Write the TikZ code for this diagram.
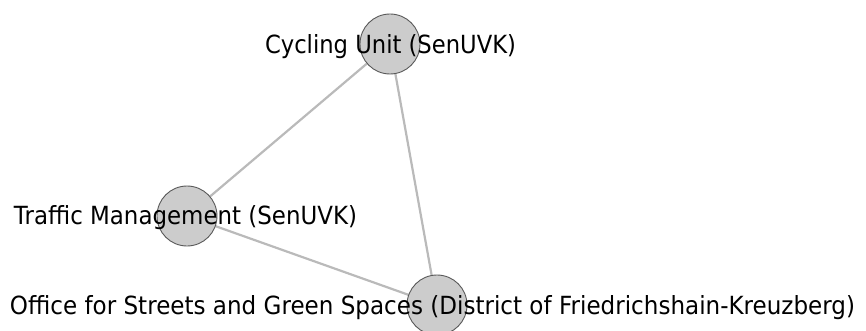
\documentclass[tikz,border=0pt]{standalone}
\usepackage{fontspec}
\setmainfont{DejaVu Sans}
\usetikzlibrary{backgrounds}
\tikzset{
  vertex/.style={circle, draw=black!65, line width=0.9pt, fill=black!20, minimum size=60pt, inner sep=0pt},
  edge/.style={draw=black!27, line width=2.2pt},
  lbl/.style={anchor=base, inner sep=0pt, font=\fontsize{25}{30}\selectfont, text=black}
}
\begin{document}
\begin{tikzpicture}[x=1pt,y=-1pt]
\clip (0,0) rectangle (866,331);
\useasboundingbox (0,0) rectangle (866,331);
\node[vertex] (cu) at (390,44) {};
\node[vertex] (tm) at (187,216) {};
\node[vertex] (os) at (437,305) {};
\begin{scope}[on background layer]
\draw[edge] (cu.center) -- (tm.center);
\draw[edge] (cu.center) -- (os.center);
\draw[edge] (tm.center) -- (os.center);
\end{scope}
\node[lbl] (cul) at (390.5,54) {\resizebox{251pt}{\height}{Cycling Unit (SenUVK)}};
\node[lbl] (tml) at (185.5,224) {\resizebox{343pt}{\height}{Traffic Management (SenUVK)}};
\node[lbl] (osl) at (432.5,314) {\resizebox{845pt}{\height}{Office for Streets and Green Spaces (District of Friedrichshain-Kreuzberg)}};
\end{tikzpicture}
\end{document}
